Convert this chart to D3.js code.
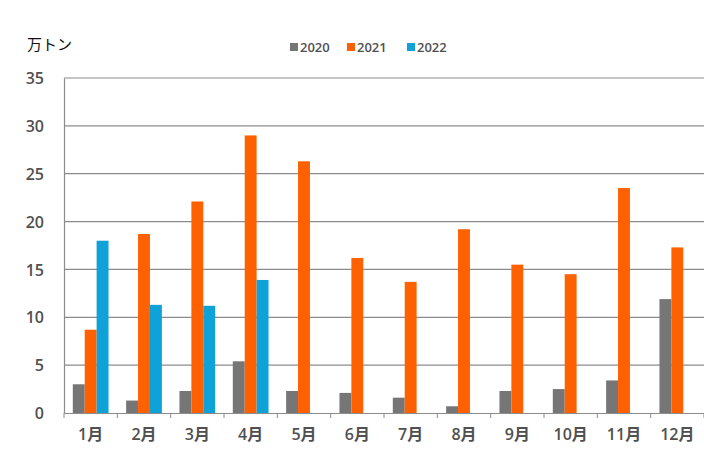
<!DOCTYPE html>
<html>
<head>
<meta charset="utf-8">
<script src="https://d3js.org/d3.v7.min.js"></script>
<style>
  body { margin: 0; background: #fff; }
  text { font-family: "Open Sans", "Noto Sans CJK SC", sans-serif; }
</style>
</head>
<body>
<script>
const months = ["1月","2月","3月","4月","5月","6月","7月","8月","9月","10月","11月","12月"];
const years = ["2020","2021","2022"];
const v2020 = [3.0, 1.3, 2.3, 5.4, 2.3, 2.1, 1.6, 0.7, 2.3, 2.5, 3.4, 11.9];
const v2021 = [8.7, 18.7, 22.1, 29.0, 26.3, 16.2, 13.7, 19.2, 15.5, 14.5, 23.5, 17.3];
const v2022 = [18.0, 11.3, 11.2, 13.9, null, null, null, null, null, null, null, null];
const yTicks = [0, 5, 10, 15, 20, 25, 30, 35];
const colors = ["#767676", "#ff6000", "#0fa2d8"];

const series = [v2020, v2021, v2022];

const W = 704, H = 452;
const margin = {top: 78, right: 0, bottom: 39, left: 64};
const width = W - margin.left - margin.right;
const height = H - margin.top - margin.bottom;

const svg = d3.select("body").append("svg")
  .attr("width", W).attr("height", H);

const g = svg.append("g")
  .attr("transform", "translate(" + margin.left + "," + margin.top + ")");

const x = d3.scaleBand().domain(months).range([0, width]).paddingInner(0.33).paddingOuter(0.165);
const x1 = d3.scaleBand().domain(years).range([0, x.bandwidth()]);
const y = d3.scaleLinear().domain([0, 35]).range([height, 0]);

// gridlines
g.selectAll(".grid").data(yTicks.slice(1)).enter().append("line")
  .attr("x1", 0).attr("x2", width)
  .attr("y1", d => y(d)).attr("y2", d => y(d))
  .attr("stroke", "#8c8c8c").attr("stroke-width", 1.2);

// bars
series.forEach(function(vals, i) {
  g.selectAll(".b" + i).data(months.map((m, j) => ({m: m, v: vals[j]})).filter(d => d.v != null))
    .enter().append("rect")
    .attr("x", d => x(d.m) + x1(years[i]))
    .attr("width", x1.bandwidth())
    .attr("y", d => y(d.v))
    .attr("height", d => y(0) - y(d.v))
    .attr("fill", colors[i]);
});

// y axis
const yAxis = g.append("g")
  .call(d3.axisLeft(y).tickValues(yTicks).tickSize(0).tickPadding(20));
yAxis.select(".domain").attr("stroke", "#8c8c8c").attr("stroke-width", 1.2);
yAxis.selectAll("text").attr("font-size", 16).attr("font-weight", 600)
  .attr("fill", "#505050").attr("dy", "0.35em");

// x axis
const step = x.step();
const xAxis = g.append("g").attr("transform", "translate(0," + height + ")")
  .call(d3.axisBottom(x).tickSize(0).tickPadding(16));
xAxis.select(".domain").attr("stroke", "#8c8c8c").attr("stroke-width", 1.2);
xAxis.selectAll("text").attr("font-size", 16).attr("font-weight", 600).attr("fill", "#505050");
xAxis.selectAll(".sep").data(d3.range(13)).enter().append("line")
  .attr("x1", d => d * step).attr("x2", d => d * step)
  .attr("y1", 0).attr("y2", 5)
  .attr("stroke", "#8c8c8c");

// unit label
svg.append("text")
  .attr("x", 27).attr("y", 50)
  .attr("font-size", 15).attr("fill", "#111")
  .text("万トン");

// legend
const lx = [290, 347, 407];
years.forEach(function(yr, i) {
  svg.append("rect")
    .attr("x", lx[i]).attr("y", 43).attr("width", 8).attr("height", 8)
    .attr("fill", colors[i]);
  svg.append("text")
    .attr("x", lx[i] + 10).attr("y", 52)
    .attr("font-size", 13).attr("font-weight", 600).attr("fill", "#505050")
    .text(yr);
});
</script>
</body>
</html>
